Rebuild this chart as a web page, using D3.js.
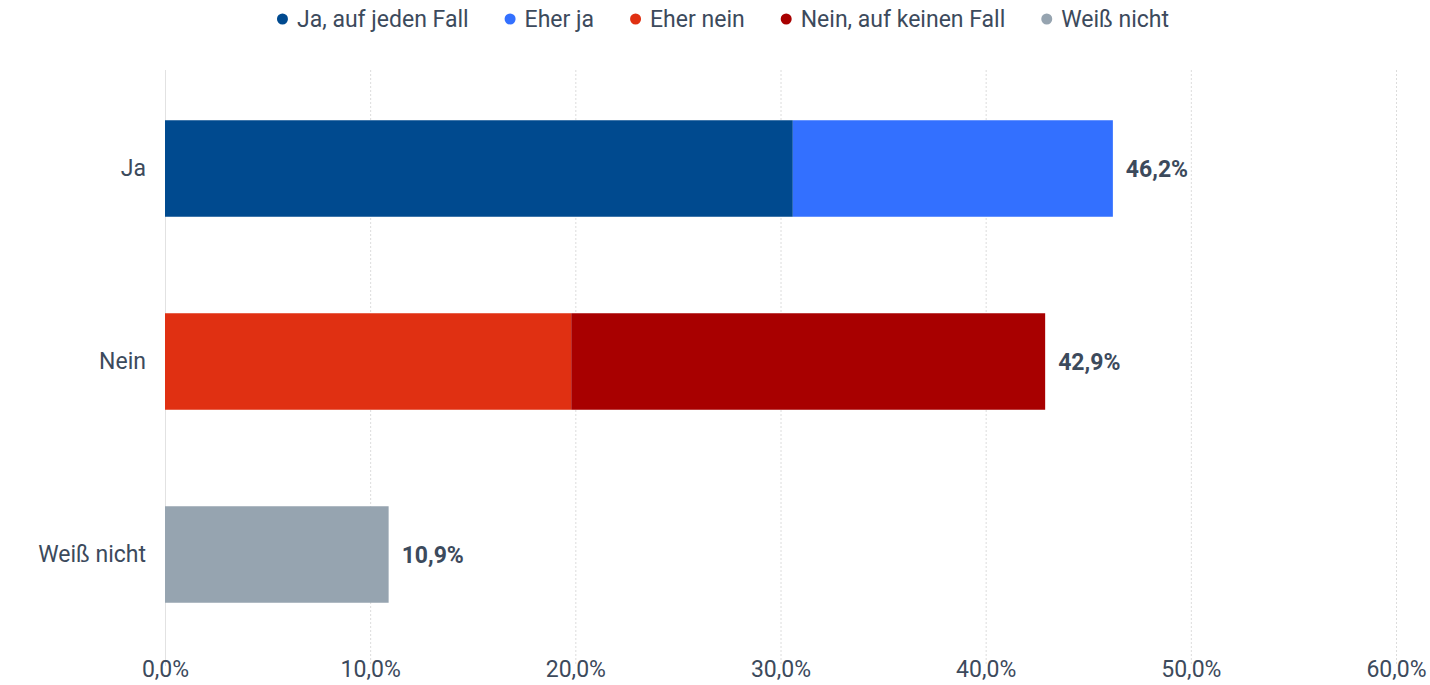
<!DOCTYPE html>
<html>
<head>
<meta charset="utf-8">
<script src="https://cdn.jsdelivr.net/npm/d3@7"></script>
<style>
  body { margin: 0; background: #fff; font-family: Roboto, sans-serif; }
  #chart text { font-family: Roboto, sans-serif; }
</style>
</head>
<body>
<div id="chart"></div>
<script>
const categories = ['Ja', 'Nein', 'Weiß nicht'];
const seriesNames = ['Ja, auf jeden Fall', 'Eher ja', 'Eher nein', 'Nein, auf keinen Fall', 'Weiß nicht'];
const seriesColors = ['#004a8f', '#3370ff', '#e03012', '#a80000', '#96a4b0'];
// values per series, in category order (percent)
const jaAufJedenFall = [30.6, 0, 0];
const eherJa = [15.6, 0, 0];
const eherNein = [0, 19.8, 0];
const neinAufKeinenFall = [0, 23.1, 0];
const weissNicht = [0, 0, 10.9];
const totals = [46.2, 42.9, 10.9];
const xTicks = [0, 10, 20, 30, 40, 50, 60];

const series = [jaAufJedenFall, eherJa, eherNein, neinAufKeinenFall, weissNicht];
const fmt = (v) => v.toFixed(1).replace('.', ',') + '%';

const width = 1430;
const height = 685;
const margin = { top: 72, right: 34, bottom: 34, left: 165 };
const textColor = '#3c4a5c';
const fontSize = '23px';

const svg = d3.select('#chart')
  .append('svg')
  .attr('width', width)
  .attr('height', height);

const xScale = d3.scaleLinear()
  .domain([0, 60])
  .range([margin.left, width - margin.right]);

const yScale = d3.scaleBand()
  .domain(categories)
  .range([margin.top, height - margin.bottom])
  .paddingInner(0.5)
  .paddingOuter(0.25);

// gridlines
const grid = svg.append('g').attr('class', 'grid');
grid.selectAll('line')
  .data(xTicks)
  .join('line')
  .attr('x1', (d) => xScale(d) + 0.5)
  .attr('x2', (d) => xScale(d) + 0.5)
  .attr('y1', margin.top - 2)
  .attr('y2', height - margin.bottom + 15)
  .attr('stroke', (d) => d === 0 ? '#e2e2e2' : '#dcdcdc')
  .attr('stroke-width', 1)
  .attr('stroke-dasharray', (d) => d === 0 ? null : '2,2');

// x axis labels
const xAxis = d3.axisBottom(xScale)
  .tickValues(xTicks)
  .tickFormat(fmt)
  .tickSize(0)
  .tickPadding(0);

svg.append('g')
  .attr('transform', `translate(0, ${height - 16})`)
  .call(xAxis)
  .call((g) => g.select('.domain').remove())
  .call((g) => g.selectAll('text')
    .attr('dy', '0.35em')
    .attr('y', 0)
    .attr('fill', textColor)
    .style('font-size', fontSize));

// y axis labels
const yAxis = d3.axisLeft(yScale).tickSize(0).tickPadding(19);
svg.append('g')
  .attr('transform', `translate(${margin.left}, 0)`)
  .call(yAxis)
  .call((g) => g.select('.domain').remove())
  .call((g) => g.selectAll('text')
    .attr('fill', textColor)
    .style('font-size', fontSize));

// stacked bars
const rows = categories.map((c, i) => {
  const row = { category: c };
  seriesNames.forEach((s, j) => { row[s] = series[j][i]; });
  return row;
});
const stacked = d3.stack().keys(seriesNames)(rows);

svg.append('g')
  .selectAll('g')
  .data(stacked)
  .join('g')
  .attr('fill', (d, i) => seriesColors[i])
  .selectAll('rect')
  .data((d) => d.filter((p) => p[1] - p[0] > 0))
  .join('rect')
  .attr('x', (d) => xScale(d[0]))
  .attr('width', (d) => xScale(d[1]) - xScale(d[0]))
  .attr('y', (d) => yScale(d.data.category))
  .attr('height', yScale.bandwidth());

// value labels
svg.append('g')
  .selectAll('text')
  .data(categories)
  .join('text')
  .attr('x', (d, i) => xScale(totals[i]) + 13)
  .attr('y', (d) => yScale(d) + yScale.bandwidth() / 2)
  .attr('dy', '0.35em')
  .attr('fill', textColor)
  .style('font-size', fontSize)
  .style('font-weight', 'bold')
  .text((d, i) => fmt(totals[i]));

// legend
const legend = svg.append('g').attr('class', 'legend');
const items = legend.selectAll('g')
  .data(seriesNames)
  .join('g');
items.append('circle')
  .attr('r', 5.5)
  .attr('cx', 5.5)
  .attr('cy', 0)
  .attr('fill', (d, i) => seriesColors[i]);
items.append('text')
  .attr('x', 20)
  .attr('dy', '0.35em')
  .attr('fill', textColor)
  .style('font-size', fontSize)
  .text((d) => d);

let offset = 0;
const gap = 36;
const offsets = [];
items.each(function () {
  offsets.push(offset);
  const w = this.querySelector('text').getComputedTextLength() + 20;
  offset += w + gap;
});
const totalW = offset - gap;
const startX = (width - totalW) / 2 + 8;
items.attr('transform', (d, i) => `translate(${startX + offsets[i]}, 19)`);
</script>
</body>
</html>
